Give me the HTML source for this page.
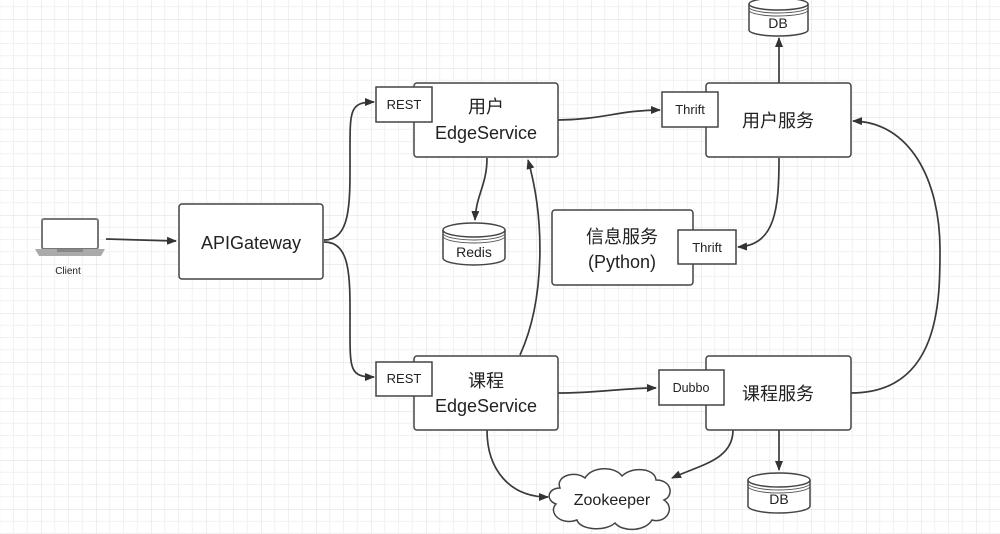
<!DOCTYPE html>
<html><head><meta charset="utf-8"><style>
html,body{margin:0;padding:0;background:#fff;}
svg{display:block;}
text{font-family:"Liberation Sans","Noto Sans CJK SC",sans-serif;fill:#222;}
</style></head><body>
<svg width="1000" height="534" viewBox="0 0 1000 534" xmlns="http://www.w3.org/2000/svg">
<defs>
<pattern id="g" width="55" height="49" patternUnits="userSpaceOnUse" x="41" y="19">
<path d="M13.75 0V49M27.5 0V49M41.25 0V49M0 12.25H55M0 24.5H55M0 36.75H55" fill="none" stroke="#f1f1f1" stroke-width="1"/>
<path d="M55 0H0V49" fill="none" stroke="#e8e8e8" stroke-width="1.5"/>
</pattern>
<marker id="a" markerWidth="10" markerHeight="8" refX="9" refY="4" orient="auto" markerUnits="userSpaceOnUse">
<path d="M0 0L10 4L0 8z" fill="#333"/>
</marker>
</defs>
<rect width="1000" height="534" fill="url(#g)"/>
<g fill="none" stroke="#3a3a3a" stroke-width="1.7">
<line x1="106" y1="239" x2="176" y2="241" marker-end="url(#a)"/>
<path d="M324 240 C352 240 350 200 350 150 C350 110 350 102 374 102" marker-end="url(#a)"/>
<path d="M324 242 C352 242 350 280 350 330 C350 370 350 377 374 377" marker-end="url(#a)"/>
<path d="M558 120 C600 120 620 110 660 110" marker-end="url(#a)"/>
<path d="M487 158 C487 185 476 195 475 220" marker-end="url(#a)"/>
<path d="M520 355 C545 300 545 220 528 160" marker-end="url(#a)"/>
<line x1="779" y1="83" x2="779" y2="38" marker-end="url(#a)"/>
<path d="M779 158 C779 210 775 245 738 247" marker-end="url(#a)"/>
<path d="M558 393 C600 393 620 388 656 388" marker-end="url(#a)"/>
<path d="M851 393 C940 393 940 300 940 250 C940 180 910 122 853 121" marker-end="url(#a)"/>
<line x1="779" y1="430" x2="779" y2="470" marker-end="url(#a)"/>
<path d="M487 430 C487 470 510 497 548 497" marker-end="url(#a)"/>
<path d="M733 430 C733 460 700 465 672 478" marker-end="url(#a)"/>
</g>
<g>
<rect x="42" y="219" width="56" height="30" rx="2" fill="#fff" stroke="#777" stroke-width="2"/>
<path d="M35 249H105L101 256H39Z" fill="#aaa"/>
<rect x="57" y="249" width="26" height="3" fill="#888"/>
</g>
<text x="68" y="274" font-size="10" text-anchor="middle" fill="#777">Client</text>
<g fill="#fff" stroke="#444" stroke-width="1.5">
<rect x="179" y="204" width="144" height="75" rx="3"/>
<rect x="414" y="83" width="144" height="74" rx="3"/>
<rect x="376" y="87" width="56" height="35"/>
<rect x="414" y="356" width="144" height="74" rx="3"/>
<rect x="376" y="362" width="56" height="34"/>
<rect x="706" y="83" width="145" height="74" rx="3"/>
<rect x="662" y="92" width="56" height="35"/>
<rect x="706" y="356" width="145" height="74" rx="3"/>
<rect x="659" y="370" width="65" height="35"/>
<rect x="552" y="210" width="141" height="75" rx="3"/>
<rect x="678" y="230" width="58" height="34"/>
<path d="M443 230 V258 A31 7 0 0 0 505 258 V230"/>
<ellipse cx="474" cy="230" rx="31" ry="7"/>
<path d="M749 4 V30 A29.5 6 0 0 0 808 30 V4"/>
<ellipse cx="778.5" cy="4" rx="29.5" ry="6"/>
<path d="M748 480 V506 A31 7 0 0 0 810 506 V480"/>
<ellipse cx="779" cy="480" rx="31" ry="7"/>
<path d="M560 488 C555 476 575 470 585 478 C592 466 615 466 622 476 C632 466 655 468 656 480 C672 480 674 496 664 500 C676 508 666 524 652 520 C645 532 622 532 615 523 C605 532 580 530 577 520 C560 526 548 512 556 504 C545 500 548 488 560 488Z"/>
</g>
<g stroke="#555" stroke-width="0.9" fill="none">
<path d="M443 233 A31 7 0 0 0 505 233 M443 236 A31 7 0 0 0 505 236"/>
<path d="M749 7 A29.5 6 0 0 0 808 7 M749 10 A29.5 6 0 0 0 808 10"/>
<path d="M748 483 A31 7 0 0 0 810 483 M748 486 A31 7 0 0 0 810 486"/>
</g>
<g text-anchor="middle">
<text x="251" y="249" font-size="18">APIGateway</text>
<text x="486" y="113" font-size="18">用户</text>
<text x="486" y="139" font-size="18">EdgeService</text>
<text x="404" y="109" font-size="13">REST</text>
<text x="486" y="387" font-size="18">课程</text>
<text x="486" y="412" font-size="18">EdgeService</text>
<text x="404" y="383" font-size="13">REST</text>
<text x="778" y="127" font-size="18">用户服务</text>
<text x="690" y="114" font-size="13">Thrift</text>
<text x="778" y="400" font-size="18">课程服务</text>
<text x="691" y="392" font-size="12.5">Dubbo</text>
<text x="622" y="243" font-size="18">信息服务</text>
<text x="622" y="268" font-size="18">(Python)</text>
<text x="707" y="252" font-size="13">Thrift</text>
<text x="474" y="257" font-size="14">Redis</text>
<text x="778" y="28" font-size="14">DB</text>
<text x="779" y="504" font-size="14">DB</text>
<text x="612" y="505" font-size="16" fill="#444">Zookeeper</text>
</g>
</svg>
</body></html>
